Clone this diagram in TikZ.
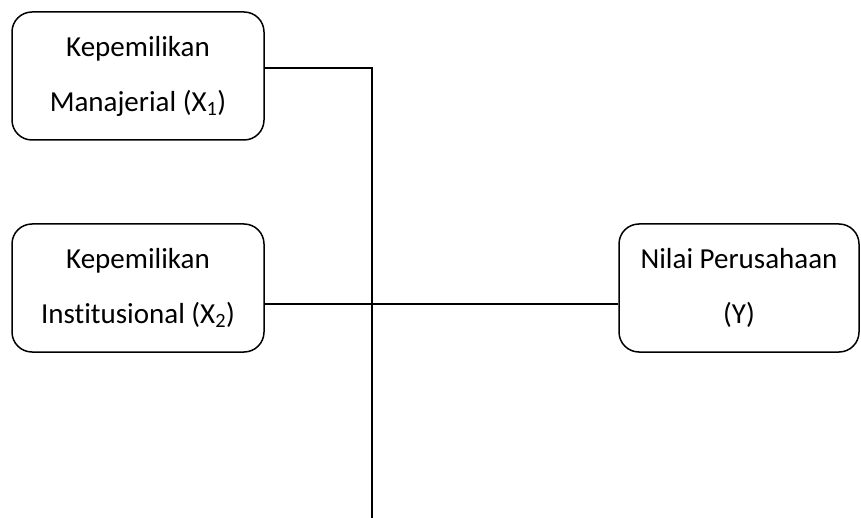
\documentclass[tikz,border=0pt]{standalone}
\usepackage{fontspec}
\setmainfont{Carlito}[Ligatures={NoCommon,NoRequired}]
\begin{document}
\begin{tikzpicture}[x=1pt,y=-1pt,
  box/.style={draw, line width=1.5pt, rounded corners=20pt, align=center,
    font=\fontsize{29}{55}\selectfont, inner sep=0pt, minimum height=128pt},
  conn/.style={line width=1.5pt}]
\useasboundingbox (0,0) rectangle (861,518);
\node[box, minimum width=252pt] (b1) at (138,76) {Kepemilikan\\Manajerial (X\textsubscript{1})};
\node[box, minimum width=252pt] (b2) at (138,288) {Kepemilikan\\Institusional (X\textsubscript{2})};
\node[box, minimum width=240pt] (b3) at (739,288) {Nilai Perusahaan\\(Y)};
\coordinate (j1) at (372,68);
\coordinate (j2) at (372,304);
\coordinate (jb) at (372,518);
\draw[conn] (j1 -| b1.east) -- (j1) -- (jb);
\draw[conn] (j2 -| b2.east) -- (j2 -| b3.west);
\end{tikzpicture}
\end{document}
